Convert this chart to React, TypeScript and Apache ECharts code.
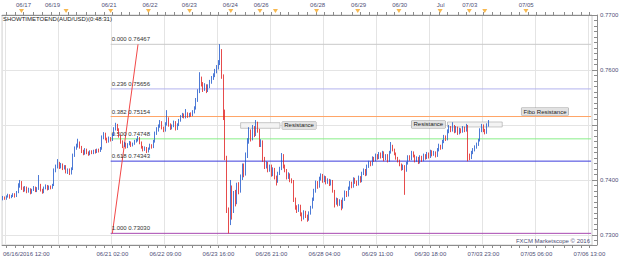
import React, { useEffect, useRef } from 'react';
import * as echarts from 'echarts';

// Hourly AUD/USD candles, prices in pips (x 1e-4); open = previous close
const firstOpen = 7366;
const closes = [
  7368, 7366, 7370, 7372, 7369, 7371, 7374, 7370, 7378, 7390,
  7396, 7385, 7381, 7386, 7379, 7383, 7377, 7382, 7386, 7380,
  7384, 7390, 7382, 7378, 7386, 7389, 7384, 7388, 7386, 7391,
  7418, 7425, 7430, 7424, 7428, 7421, 7425, 7415, 7419, 7412,
  7420, 7445, 7458, 7462, 7468, 7460, 7452, 7448, 7455, 7450,
  7447, 7452, 7449, 7453, 7451, 7455, 7453, 7457, 7478, 7484,
  7475, 7470, 7476, 7473, 7482, 7493, 7500, 7492, 7480, 7470,
  7462, 7466, 7460, 7465, 7468, 7463, 7466, 7470, 7472, 7476,
  7468, 7460, 7455, 7458, 7452, 7457, 7463, 7460, 7470, 7485,
  7492, 7498, 7505, 7495, 7490, 7502, 7512, 7500, 7495, 7498,
  7505, 7493, 7500, 7508, 7515, 7519, 7514, 7521, 7516, 7520,
  7518, 7524, 7530, 7545, 7560, 7585, 7575, 7565, 7572, 7562,
  7570, 7578, 7585, 7590, 7598, 7605, 7612, 7632, 7588, 7524,
  7440, 7345, 7325, 7385, 7345, 7375, 7360, 7390, 7380, 7405,
  7425, 7410, 7445, 7470, 7488, 7475, 7495, 7482, 7500, 7490,
  7465, 7470, 7438, 7425, 7430, 7418, 7425, 7410, 7420, 7405,
  7398, 7412, 7420, 7438, 7425, 7418, 7405, 7410, 7400, 7398,
  7365, 7350, 7345, 7352, 7338, 7330, 7342, 7335, 7328, 7340,
  7350, 7365, 7380, 7395, 7388, 7402, 7408, 7398, 7405, 7395,
  7400, 7392, 7398, 7380, 7358, 7365, 7355, 7362, 7350, 7365,
  7378, 7372, 7385, 7395, 7388, 7402, 7396, 7392, 7405, 7398,
  7412, 7418, 7410, 7425, 7432, 7428, 7440, 7436, 7445, 7440,
  7448, 7442, 7450, 7438, 7445, 7435, 7450, 7462, 7455, 7448,
  7440, 7435, 7428, 7420, 7425, 7418, 7430, 7442, 7438, 7450,
  7444, 7435, 7440, 7432, 7442, 7436, 7445, 7440, 7448, 7442,
  7452, 7446, 7450, 7444, 7455, 7462, 7458, 7470, 7478, 7474,
  7488, 7495, 7490, 7498, 7488, 7495, 7485, 7492, 7488, 7495,
  7490, 7498, 7445, 7440, 7450, 7455, 7460, 7465, 7472, 7490,
  7498, 7490, 7486, 7500, 7503,
];
const lows = [
  7363, 7364, 7364, 7368, 7366, 7367, 7369, 7368, 7369, 7376,
  7386, 7382, 7378, 7379, 7376, 7377, 7374, 7375, 7380, 7378,
  7378, 7382, 7379, 7375, 7376, 7383, 7381, 7382, 7383, 7384,
  7389, 7414, 7421, 7420, 7421, 7418, 7419, 7412, 7411, 7409,
  7410, 7418, 7442, 7455, 7459, 7457, 7449, 7445, 7446, 7447,
  7444, 7445, 7447, 7447, 7448, 7449, 7450, 7451, 7455, 7474,
  7472, 7467, 7468, 7470, 7471, 7480, 7490, 7489, 7477, 7466,
  7458, 7460, 7457, 7458, 7463, 7460, 7461, 7464, 7468, 7470,
  7465, 7457, 7452, 7453, 7449, 7450, 7455, 7457, 7458, 7468,
  7482, 7488, 7495, 7492, 7487, 7488, 7499, 7497, 7491, 7492,
  7496, 7490, 7491, 7498, 7506, 7513, 7512, 7512, 7513, 7514,
  7515, 7516, 7521, 7528, 7542, 7558, 7570, 7560, 7562, 7558,
  7560, 7567, 7575, 7582, 7587, 7594, 7601, 7609, 7584, 7509,
  7436, 7340, 7303, 7318, 7328, 7340, 7352, 7356, 7374, 7377,
  7400, 7405, 7408, 7440, 7466, 7470, 7472, 7478, 7480, 7486,
  7460, 7460, 7433, 7420, 7421, 7414, 7415, 7406, 7407, 7401,
  7390, 7395, 7409, 7418, 7421, 7414, 7401, 7402, 7396, 7394,
  7360, 7346, 7340, 7342, 7334, 7325, 7328, 7331, 7324, 7326,
  7337, 7348, 7362, 7377, 7384, 7386, 7399, 7395, 7396, 7392,
  7393, 7389, 7390, 7377, 7350, 7355, 7352, 7353, 7345, 7348,
  7362, 7369, 7370, 7382, 7385, 7386, 7393, 7389, 7390, 7395,
  7396, 7409, 7407, 7408, 7422, 7425, 7426, 7433, 7434, 7437,
  7438, 7439, 7440, 7434, 7436, 7432, 7433, 7448, 7452, 7445,
  7437, 7432, 7425, 7417, 7418, 7373, 7415, 7428, 7435, 7436,
  7441, 7432, 7433, 7429, 7430, 7433, 7434, 7437, 7438, 7439,
  7440, 7443, 7444, 7441, 7442, 7452, 7455, 7456, 7467, 7471,
  7472, 7485, 7487, 7488, 7485, 7486, 7482, 7483, 7485, 7486,
  7487, 7488, 7434, 7436, 7438, 7447, 7452, 7457, 7462, 7470,
  7487, 7487, 7483, 7484, 7497,
];
const highs = [
  7371, 7370, 7372, 7375, 7374, 7373, 7376, 7376, 7380, 7394,
  7400, 7398, 7388, 7389, 7388, 7386, 7385, 7384, 7389, 7388,
  7387, 7409, 7393, 7384, 7388, 7392, 7391, 7390, 7390, 7393,
  7421, 7428, 7438, 7433, 7431, 7430, 7427, 7427, 7421, 7421,
  7423, 7448, 7461, 7466, 7475, 7470, 7462, 7455, 7458, 7457,
  7452, 7454, 7454, 7455, 7456, 7457, 7457, 7460, 7481, 7487,
  7486, 7477, 7479, 7478, 7485, 7496, 7504, 7502, 7494, 7482,
  7472, 7469, 7468, 7467, 7471, 7470, 7468, 7473, 7475, 7480,
  7478, 7470, 7462, 7461, 7460, 7459, 7466, 7465, 7473, 7488,
  7496, 7501, 7509, 7507, 7497, 7505, 7527, 7514, 7503, 7501,
  7508, 7507, 7503, 7511, 7518, 7522, 7521, 7529, 7523, 7522,
  7523, 7527, 7534, 7549, 7565, 7596, 7588, 7578, 7576, 7574,
  7574, 7582, 7589, 7594, 7602, 7609, 7618, 7647, 7638, 7592,
  7528, 7444, 7350, 7400, 7390, 7380, 7382, 7395, 7396, 7410,
  7430, 7430, 7450, 7476, 7496, 7492, 7500, 7498, 7509, 7506,
  7493, 7474, 7472, 7442, 7434, 7433, 7428, 7428, 7423, 7422,
  7408, 7415, 7424, 7449, 7447, 7428, 7420, 7414, 7412, 7403,
  7400, 7368, 7354, 7356, 7355, 7341, 7345, 7344, 7337, 7343,
  7353, 7368, 7384, 7399, 7398, 7406, 7412, 7411, 7408, 7407,
  7403, 7402, 7401, 7400, 7382, 7368, 7367, 7365, 7364, 7368,
  7381, 7380, 7388, 7398, 7397, 7405, 7404, 7399, 7408, 7407,
  7415, 7421, 7420, 7428, 7435, 7434, 7443, 7442, 7448, 7447,
  7451, 7450, 7453, 7452, 7447, 7447, 7453, 7469, 7464, 7457,
  7450, 7442, 7437, 7430, 7428, 7427, 7433, 7445, 7445, 7453,
  7452, 7446, 7443, 7442, 7445, 7444, 7448, 7447, 7451, 7450,
  7455, 7454, 7453, 7452, 7458, 7466, 7464, 7473, 7482, 7481,
  7492, 7500, 7498, 7505, 7500, 7498, 7497, 7495, 7494, 7498,
  7497, 7502, 7500, 7448, 7453, 7458, 7463, 7468, 7475, 7494,
  7502, 7501, 7493, 7503, 7509,
];

const slotCount = 345; // hourly slots on the axis (trading hours only)

const bottomTickIdx = [2, 64, 95, 126, 157, 188, 219, 250, 281, 312, 343];
const bottomTickLabels = [
  '06/16/2016 12:00', '06/21 02:00', '06/22 09:00', '06/23 16:00', '06/26 21:00',
  '06/28 04:00', '06/29 11:00', '06/30 18:00', '07/03 23:00', '07/05 06:00', '07/06 13:00',
];
const gridLineIdx = [2, 33, 64, 95, 126, 157, 188, 219, 250, 281, 312, 343];
const topTickIdx = [12, 29, 62, 86, 109, 133, 151, 184, 208, 232, 256, 273, 306];
const topTickLabels = ['06/17', '06/19', '06/21', '06/22', '06/23', '06/24', '06/26', '06/28', '06/29', '06/30', 'Jul', '07/03', '07/05'];
const topMarkerIdx = [12, 38, 64, 86, 110, 134, 151, 160, 184, 208, 232, 256, 273, 282, 306];

const fibLevels = [0, 0.236, 0.382, 0.5, 0.618, 1];
const fibPrices = [0.76467, 0.75656, 0.75154, 0.74748, 0.74343, 0.7303];
const fibColors = ['#cacaca', '#b4b4ee', '#ffa466', '#88ee88', '#3c3cdc', '#a848b0'];
const fibStartIdx = 63;
const fibEndIdx = 344;
const fibAnchorA: [number, number] = [64, 0.7303];
const fibAnchorB: [number, number] = [79, 0.76467];

const resistanceZones = [
  { from: 139, to: 162, top: 0.75042, bottom: 0.7494, side: 'right' },
  { from: 260, to: 292, top: 0.75055, bottom: 0.74964, side: 'left' },
];
const fiboNote = { idx: 317, price: 0.75245, text: 'Fibo Resistance' };
const lastPrice = 0.7503;

const FONT = 'Liberation Sans, Arial, sans-serif';
const AXIS_TEXT = '#4f4f78';
const AXIS_LINE = '#8c8c8c';

const categories = Array.from({ length: slotCount }, (_, i) => String(i));
const candles = closes.map((c, i) => {
  const o = i === 0 ? firstOpen : closes[i - 1];
  return [o / 1e4, c / 1e4, lows[i] / 1e4, highs[i] / 1e4];
});

const isRulerTick = (i: number) => {
  const k = Math.round(((i - 2) * 6) / 31);
  return Math.round(2 + (k * 31) / 6) === i;
};

const boxLabel = {
  fontSize: 6,
  fontFamily: FONT,
  color: '#222',
  backgroundColor: '#e2e2e2',
  borderColor: '#9a9a9a',
  borderWidth: 0.5,
  padding: [1, 2, 0, 2],
};

const fibSeries = fibPrices.map((p, k) => ({
  type: 'line',
  name: 'fib' + k,
  xAxisIndex: 0,
  yAxisIndex: 0,
  color: fibColors[k],
  showSymbol: true,
  symbol: 'circle',
  symbolSize: 0,
  silent: true,
  z: 3,
  lineStyle: { color: fibColors[k], width: 1, type: 'solid' },
  itemStyle: { color: fibColors[k] },
  label: { show: false },
  data: [
    {
      value: [fibStartIdx, p],
      label: {
        show: true,
        position: [1, -8],
        formatter: fibLevels[k].toFixed(3) + ' ' + p.toFixed(5),
        fontSize: 6,
        fontFamily: FONT,
        color: '#333',
      },
    },
    { value: [fibEndIdx, p] },
  ],
}));

const anchorSeries = {
  type: 'line',
  name: 'fibAnchor',
  xAxisIndex: 0,
  yAxisIndex: 0,
  color: '#f24848',
  showSymbol: false,
  silent: true,
  z: 3,
  lineStyle: { color: '#f24848', width: 1, type: 'solid' },
  data: [fibAnchorA, fibAnchorB],
};

export default function App() {
  const ref = useRef<HTMLDivElement>(null);
  useEffect(() => {
    const chart = echarts.init(ref.current!, null, { renderer: 'svg' });
    const option: any = {
      animation: false,
      backgroundColor: '#ffffff',
      textStyle: { fontFamily: FONT },
      title: [
        {
          text: 'SHOWTIMETOEND(AUD/USD)(0:48:31)',
          left: 3,
          top: 16,
          padding: 0,
          textStyle: { fontSize: 6, fontWeight: 'normal', color: '#222', fontFamily: FONT },
        },
        {
          text: 'FXCM Marketscope © 2016',
          right: 35,
          bottom: 18,
          padding: 0,
          textStyle: { fontSize: 6, fontWeight: 'normal', color: '#4f4f78', fontFamily: FONT },
        },
      ],
      grid: [
        { left: 0, right: 33, top: 15, bottom: 17, show: true, borderColor: '#cfcfcf', borderWidth: 1 },
        { left: 0, right: 33, top: 9, height: 4 },
      ],
      xAxis: [
        {
          type: 'category',
          gridIndex: 0,
          position: 'bottom',
          data: categories,
          boundaryGap: true,
          axisLine: { lineStyle: { color: AXIS_LINE } },
          axisTick: { show: true, alignWithLabel: true, interval: (i: number) => isRulerTick(i), length: 3, lineStyle: { color: AXIS_LINE } },
          axisLabel: {
            interval: (i: number) => bottomTickIdx.includes(i),
            formatter: (v: string) => {
              const k = bottomTickIdx.indexOf(Number(v));
              if (k < 0) return '';
              return k === 0 ? '{first|' + bottomTickLabels[k] + '}' : bottomTickLabels[k];
            },
            rich: { first: { padding: [0, 0, 0, 40], fontSize: 6, color: AXIS_TEXT, fontFamily: FONT } },
            fontSize: 6,
            color: AXIS_TEXT,
            fontFamily: FONT,
            margin: 6,
          },
          splitLine: { show: true, interval: (i: number) => gridLineIdx.includes(i), lineStyle: { color: '#e4e4e4' } },
        },
        {
          type: 'category',
          gridIndex: 0,
          position: 'top',
          data: categories,
          boundaryGap: true,
          axisLine: { lineStyle: { color: AXIS_LINE } },
          axisTick: { show: true, alignWithLabel: true, interval: (i: number) => isRulerTick(i), length: 3, lineStyle: { color: AXIS_LINE } },
          axisLabel: {
            interval: (i: number) => topTickIdx.includes(i),
            formatter: (v: string) => {
              const k = topTickIdx.indexOf(Number(v));
              return k < 0 ? '' : topTickLabels[k];
            },
            fontSize: 6,
            color: AXIS_TEXT,
            fontFamily: FONT,
            margin: 7,
          },
          splitLine: { show: false },
        },
        {
          type: 'category',
          gridIndex: 1,
          data: categories,
          boundaryGap: true,
          show: false,
        },
      ],
      yAxis: [
        {
          type: 'value',
          gridIndex: 0,
          position: 'right',
          offset: 5,
          min: 0.72818,
          max: 0.77,
          splitNumber: 4,
          minInterval: 0.01,
          maxInterval: 0.01,
          axisLine: { show: true, lineStyle: { color: AXIS_LINE } },
          axisTick: { show: true, inside: true, length: 5, lineStyle: { color: AXIS_LINE } },
          minorTick: { show: true, splitNumber: 10, length: 3, lineStyle: { color: AXIS_LINE } },
          axisLabel: {
            // the 0.7500 label sits under the current-price tag
            formatter: (v: number) => (Math.abs(v - 0.75) < 1e-6 ? '' : v.toFixed(4)),
            showMinLabel: false,
            fontSize: 6,
            color: AXIS_TEXT,
            fontFamily: FONT,
            margin: 3,
          },
          splitLine: { show: true, lineStyle: { color: '#e4e4e4' } },
        },
        { type: 'value', gridIndex: 1, min: 0, max: 1, show: false },
      ],
      series: [
        {
          type: 'candlestick',
          xAxisIndex: 0,
          yAxisIndex: 0,
          data: candles,
          barWidth: '75%',
          z: 4,
          itemStyle: {
            color: '#5a98ea',
            color0: '#f25c5c',
            borderColor: '#2058cc',
            borderColor0: '#e01e1e',
            borderWidth: 0.8,
          },
          markArea: {
            silent: true,
            itemStyle: { color: '#f3f3f3', borderColor: '#a4a4a4', borderWidth: 0.6 },
            data: resistanceZones.map((z) => [
              {
                coord: [z.from, z.top],
                label: { show: true, position: z.side, distance: 2, formatter: 'Resistance', ...boxLabel },
              },
              { coord: [z.to, z.bottom] },
            ]),
          },
          markLine: {
            silent: true,
            symbol: ['none', 'none'],
            data: [
              {
                yAxis: lastPrice,
                lineStyle: { opacity: 0 },
                label: {
                  show: true,
                  position: 'end',
                  distance: 7,
                  formatter: lastPrice.toFixed(5),
                  backgroundColor: '#3cc4f4',
                  color: '#0b2440',
                  padding: [1, 1, 0, 1],
                  fontSize: 6,
                  fontFamily: FONT,
                },
              },
            ],
          },
          markPoint: {
            silent: true,
            data: [
              {
                coord: [fiboNote.idx, fiboNote.price],
                symbol: 'rect',
                symbolSize: 1,
                itemStyle: { color: 'rgba(0,0,0,0)' },
                label: { show: true, position: 'inside', formatter: fiboNote.text, ...boxLabel },
              },
            ],
          },
        },
        ...fibSeries,
        anchorSeries,
        {
          type: 'scatter',
          xAxisIndex: 2,
          yAxisIndex: 1,
          data: topMarkerIdx.map((i) => [i, 0.5]),
          symbol: 'triangle',
          symbolRotate: 180,
          symbolSize: [5, 4],
          itemStyle: { color: '#f5a623' },
          silent: true,
        },
      ],
    };
    chart.setOption(option);
    return () => chart.dispose();
  }, []);
  return (
    <div
      ref={ref}
      style={{ position: 'fixed', left: 0, top: 0, width: 625, height: 262, background: '#fff' }}
    />
  );
}
